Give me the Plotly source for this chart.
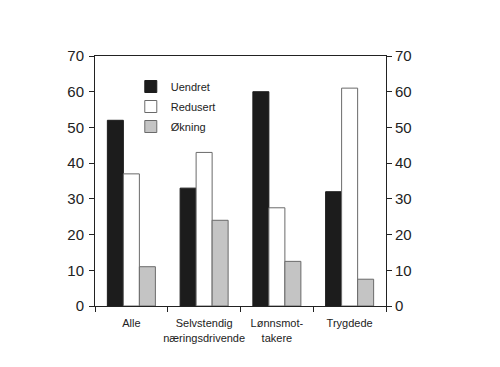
import plotly.graph_objects as go

categories = ["Alle", "Selvstendig<br>næringsdrivende", "Lønnsmot-<br>takere", "Trygdede"]
uendret = [52, 33, 60, 32]
redusert = [37, 43, 27.5, 61]
okning = [11, 24, 12.5, 7.5]
series_names = ["Uendret", "Redusert", "Økning"]
y_ticks = [0, 10, 20, 30, 40, 50, 60, 70]

fill_colors = ["#1c1c1c", "#ffffff", "#c4c4c4"]
line_colors = ["#1c1c1c", "#6a6a6a", "#6a6a6a"]

fig = go.Figure()
for name, vals, fc, lc in zip(series_names, [uendret, redusert, okning], fill_colors, line_colors):
    fig.add_trace(go.Bar(
        x=categories, y=vals, name=name, legendgroup=name,
        marker=dict(color=fc, line=dict(color=lc, width=1)),
    ))
# invisible trace so the right-hand axis is drawn
fig.add_trace(go.Scatter(x=categories, y=[None] * len(categories), yaxis="y2",
                         showlegend=False, hoverinfo="skip", mode="markers"))

font = "Liberation Sans, Arial, sans-serif"
fig.update_layout(
    width=500, height=367,
    margin=dict(l=87, r=122, t=48, b=69, autoexpand=False),
    paper_bgcolor="white", plot_bgcolor="white",
    barmode="group", bargap=0.34, bargroupgap=0,
    font=dict(family=font, color="#222222"),
    showlegend=True,
    legend=dict(x=0.123, y=0.936, xanchor="left", yanchor="top",
                bgcolor="rgba(0,0,0,0)", font=dict(size=11, family=font, color="#222"),
                tracegroupgap=1),
    xaxis=dict(showline=True, linecolor="#222", linewidth=1, mirror=True,
               ticks="outside", tickson="boundaries", ticklen=5, tickcolor="#222",
               tickangle=0, automargin=False, ticklabelstandoff=7,
               tickfont=dict(size=11, family=font, color="#222"), showgrid=False),
    yaxis=dict(range=[0, 70], tickvals=y_ticks, showline=True, linecolor="#222", linewidth=1,
               ticks="outside", ticklen=5, tickcolor="#222", showgrid=False, zeroline=False,
               automargin=False, ticklabelstandoff=2,
               tickfont=dict(size=15, family=font, color="#222")),
    yaxis2=dict(range=[0, 70], tickvals=y_ticks, overlaying="y", side="right",
                showline=True, linecolor="#222", linewidth=1, automargin=False,
                ticks="outside", ticklen=5, tickcolor="#222", showgrid=False, zeroline=False,
                tickfont=dict(size=15, family=font, color="#222")),
)
fig.write_html("out.html")
